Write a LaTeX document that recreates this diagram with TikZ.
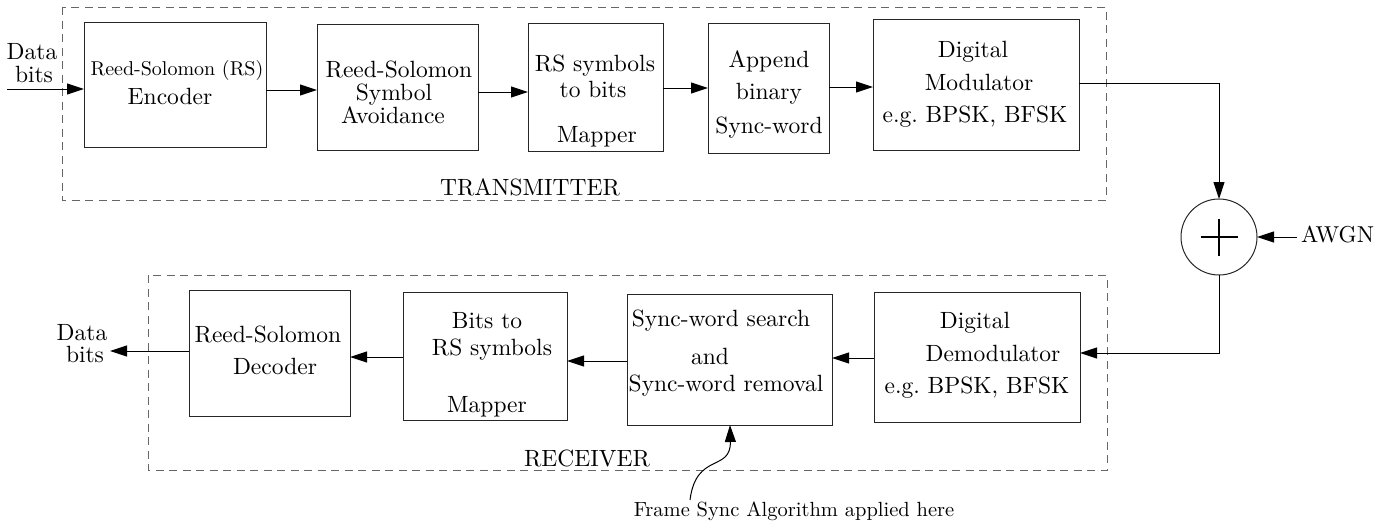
\documentclass[tikz,border=0pt]{standalone}
\usepackage{fontspec}
\setmainfont{lmroman10-regular.otf}
\usetikzlibrary{arrows.meta}
\begin{document}
\begin{tikzpicture}[x=1pt,y=-1pt,
  blk/.style={draw=black!85,line width=1pt,rectangle,inner sep=0pt,outer sep=0pt},
  txt/.style={inner sep=0pt,outer sep=0pt,yshift=-2pt,text height=0.69em,text depth=0pt,font=\fontsize{23.5}{23.5}\selectfont},
  stxt/.style={txt,font=\fontsize{20}{20}\selectfont},
  arr/.style={line width=1pt,-{Triangle[length=17pt,width=11pt]}},
  grp/.style={draw=black!60,line width=1pt,dash pattern=on 8pt off 5.5pt}]
\useasboundingbox (0,0) rectangle (1396,525);
% group frames
\draw[grp] (62,7) rectangle (1106,200);
\draw[grp] (148,275) rectangle (1107,470);
% blocks
\node[blk,minimum width=182pt,minimum height=125pt] (enc) at (175,84.5) {};
\node[blk,minimum width=161pt,minimum height=126pt] (avo) at (397.5,87) {};
\node[blk,minimum width=135pt,minimum height=128pt] (rsb) at (595.5,87) {};
\node[blk,minimum width=121pt,minimum height=130pt] (app) at (768.5,88) {};
\node[blk,minimum width=206pt,minimum height=131pt] (mod) at (976,84.5) {};
\node[blk,minimum width=161pt,minimum height=126pt] (dec) at (269.5,353) {};
\node[blk,minimum width=164pt,minimum height=128pt] (btr) at (485,356) {};
\node[blk,minimum width=205pt,minimum height=131pt] (syn) at (729.5,359.5) {};
\node[blk,minimum width=206pt,minimum height=130pt] (dem) at (977,357) {};
\node[draw=black!85,line width=1pt,circle,minimum size=76pt,inner sep=0pt,outer sep=0pt] (sum) at (1219,237) {};
\draw[line width=1.6pt] ([xshift=-18.5pt]sum.center) -- ([xshift=18.5pt]sum.center)
  ([yshift=-18.5pt]sum.center) -- ([yshift=18.5pt]sum.center);
% texts
\node[txt] (din1) at (32,54) {Data};
\node[txt] (din2) at (34,77) {bits};
\node[stxt] (enc1) at (177,70) {Reed-Solomon (RS)};
\node[txt] (enc2) at (170,99) {Encoder};
\node[txt] (avo1) at (399,72) {Reed-Solomon};
\node[txt] (avo2) at (394,95) {Symbol};
\node[txt] (avo3) at (393,118) {Avoidance};
\node[txt] (rsb1) at (595,66) {RS symbols};
\node[txt] (rsb2) at (593,92) {to bits};
\node[txt] (rsb3) at (597,137) {Mapper};
\node[txt] (app1) at (769,62) {Append};
\node[txt] (app2) at (769,94) {binary};
\node[txt] (app3) at (769,128) {Sync-word};
\node[txt] (mod1) at (973,52) {Digital};
\node[txt] (mod2) at (979,85) {Modulator};
\node[txt] (mod3) at (975,117) {e.g.\ BPSK, BFSK};
\node[txt] (dec1) at (268,337) {Reed-Solomon};
\node[txt] (dec2) at (275,369) {Decoder};
\node[txt] (btr1) at (487,323) {Bits to};
\node[txt] (btr2) at (492,350) {RS symbols};
\node[txt] (btr3) at (487,407) {Mapper};
\node[txt] (syn1) at (721,321) {Sync-word search};
\node[txt] (syn2) at (710,359) {and};
\node[txt] (syn3) at (726,386) {Sync-word removal};
\node[txt] (dem1) at (975,323) {Digital};
\node[txt] (dem2) at (993,356) {Demodulator};
\node[txt] (dem3) at (977,388) {e.g.\ BPSK, BFSK};
\node[txt] (tx) at (530,190) {TRANSMITTER};
\node[txt] (rx) at (587,461) {RECEIVER};
\node[txt,anchor=west,font=\fontsize{23}{23}\selectfont] (awgn) at (1301,237) {AWGN};
\node[txt] (dout1) at (82,335) {Data};
\node[txt] (dout2) at (85,357) {bits};
\node[txt,font=\fontsize{20.5}{20.5}\selectfont] (fs) at (794,511) {Frame Sync Algorithm applied here};
% connectors
\coordinate (inp) at (7,89);
\coordinate (outp) at (110,351);
\coordinate (fsst) at (690,500);
\draw[arr] (inp) -- (enc.west |- 0,89);
\draw[arr] (enc.east |- 0,90) -- (avo.west |- 0,90);
\draw[arr] (avo.east |- 0,92) -- (rsb.west |- 0,92);
\draw[arr] (rsb.east |- 0,88) -- (app.west |- 0,88);
\draw[arr] (app.east |- 0,87) -- (mod.west |- 0,87);
\draw[arr] (mod.east |- 0,83) -- (sum.north |- 0,83) -- (sum.north);
\draw[arr] (1297,237) -- (sum.east);
\draw[arr] (sum.south) -- (sum.south |- 0,353) -- (dem.east |- 0,353);
\draw[arr] (dem.west |- 0,358) -- (syn.east |- 0,358);
\draw[arr] (syn.west |- 0,361) -- (btr.east |- 0,361);
\draw[arr] (btr.west |- 0,357) -- (dec.east |- 0,357);
\draw[arr] (dec.west |- 0,351) -- (outp);
\draw[arr] (fsst) .. controls (696,452) and (731,472) .. (syn.south -| 730,0);
\end{tikzpicture}
\end{document}
